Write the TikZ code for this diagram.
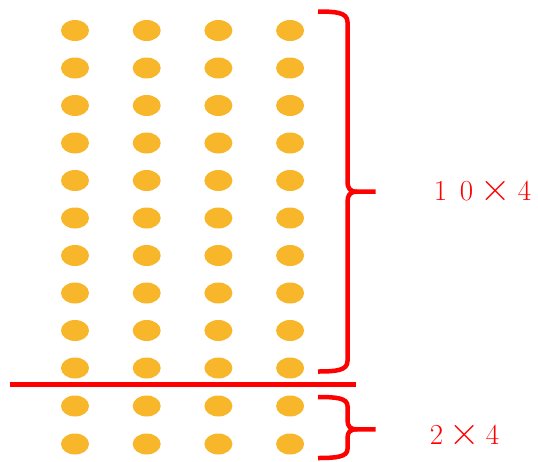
\documentclass[tikz,border=0pt]{standalone}
\usepackage{fontspec}
\definecolor{dotfill}{RGB}{248,182,42}
\definecolor{markred}{RGB}{255,0,0}
\begin{document}
\begin{tikzpicture}[x=1pt,y=-1pt,
  bean/.style={fill=dotfill},
  bracepath/.style={draw=markred,line width=4.5pt,line join=round},
  sepline/.style={draw=markred,line width=5.5pt},
  lbl/.style={text=markred,inner sep=0pt,anchor=base,font=\fontsize{29}{31}\selectfont},
  timeslbl/.style={lbl,font=\fontsize{42}{44}\selectfont}]
\useasboundingbox (0,0) rectangle (538,461);
% dots: top ten rows
\foreach \r in {0,...,9}{
  \foreach \c in {0,...,3}{
    \fill[bean] (75+71.7*\c,30.5+37.5*\r) ellipse [x radius=14, y radius=10.5];
  }
}
% dots: bottom two rows
\foreach \yy in {406,444}{
  \foreach \c in {0,...,3}{
    \fill[bean] (75+71.7*\c,\yy) ellipse [x radius=14, y radius=10.5];
  }
}
% separator line
\coordinate (sepL) at (10,384.7);
\coordinate (sepR) at (355.7,384.7);
\draw[sepline] (sepL) -- (sepR);
% upper brace
\draw[bracepath] (318,11.5) .. controls (336,11.5) and (347.5,12.5) .. (347.5,22)
  -- (347.5,181) .. controls (347.5,188.5) and (350,191.7) .. (357,191.7) -- (375.5,191.7);
\draw[bracepath] (357,191.7) .. controls (350,191.7) and (347.5,195) .. (347.5,202)
  -- (347.5,361) .. controls (347.5,370.5) and (336,371.5) .. (318,371.5);
% lower brace
\draw[bracepath] (318,397) .. controls (336,397) and (347.5,398) .. (347.5,406)
  -- (347.5,420) .. controls (347.5,426.5) and (350,429.3) .. (357,429.3) -- (375.5,429.3);
\draw[bracepath] (357,429.3) .. controls (350,429.3) and (347.5,432) .. (347.5,438)
  -- (347.5,449) .. controls (347.5,457) and (336,458) .. (318,458);
% labels
\node[lbl] (t1a) at (440.5,200) {1};
\node[lbl] (t1b) at (466.5,200) {0};
\node[timeslbl] (t1c) at (495.5,201) {×};
\node[lbl] (t1d) at (524.5,200) {4};
\node[lbl] (t2a) at (436.5,444) {2};
\node[timeslbl] (t2b) at (464.5,445) {×};
\node[lbl] (t2c) at (492.5,444) {4};
\end{tikzpicture}
\end{document}
